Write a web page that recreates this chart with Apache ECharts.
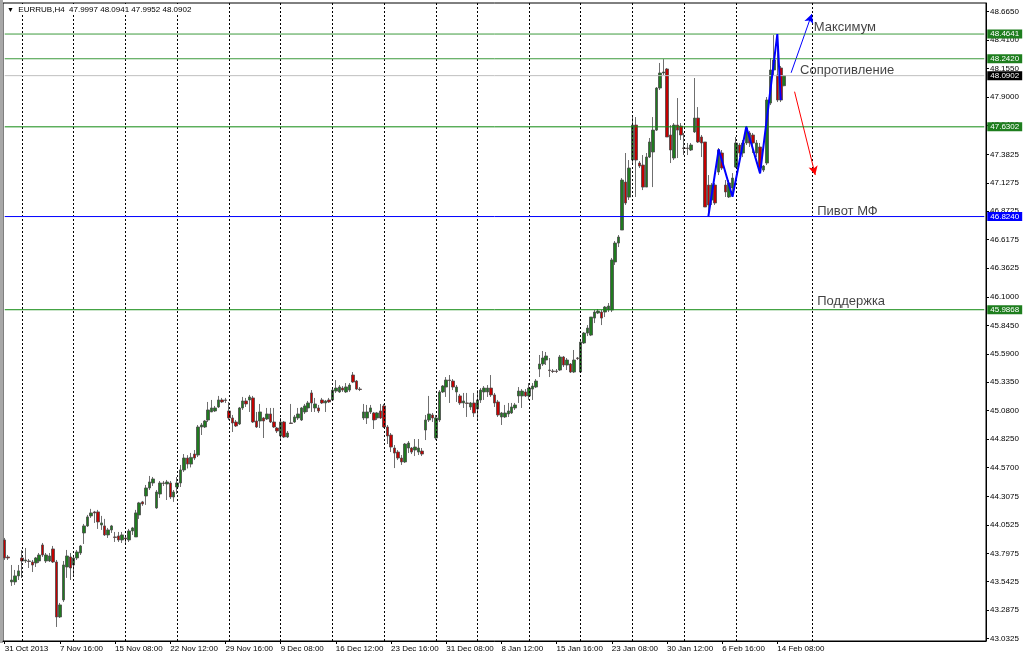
<!DOCTYPE html>
<html><head><meta charset="utf-8">
<script src="https://cdn.jsdelivr.net/npm/echarts@6/dist/echarts.min.js"></script>
<style>html,body{margin:0;padding:0;background:#fff}#c{width:1024px;height:659px}</style>
</head><body><div id="c"></div>
<script>
// ---- data (EURRUB H4) ----
const opens = [
43.918,43.765,43.541,43.541,43.595,43.756,43.729,43.729,43.720,43.711,
43.729,43.873,43.729,43.729,43.837,43.720,43.226,43.379,43.675,43.765,
43.693,43.756,43.801,43.981,44.044,44.134,44.170,44.170,44.053,44.044,
43.963,44.008,43.945,43.954,43.918,43.936,43.918,43.999,43.945,44.143,
44.260,44.313,44.385,44.430,44.206,44.331,44.430,44.421,44.430,44.304,
44.394,44.430,44.547,44.654,44.600,44.690,44.681,44.933,44.933,44.996,
45.068,45.077,45.113,45.176,45.176,45.077,45.014,44.978,44.960,45.104,
45.167,45.176,45.194,44.987,44.987,45.014,45.005,45.050,44.978,44.924,
44.852,44.978,44.843,44.969,44.978,45.014,44.996,45.068,45.104,45.239,
45.104,45.104,45.176,45.149,45.176,45.176,45.256,45.248,45.283,45.248,
45.265,45.400,45.346,45.274,45.014,45.014,45.068,45.059,45.014,45.077,
45.122,44.933,44.861,44.744,44.708,44.654,44.619,44.744,44.744,44.726,
44.708,44.717,44.906,44.996,45.041,44.834,44.996,45.248,45.292,45.355,
45.346,45.248,45.212,45.149,45.149,45.113,45.149,45.095,45.176,45.248,
45.248,45.283,45.221,45.158,45.023,45.023,45.050,45.059,45.104,45.212,
45.212,45.248,45.212,45.274,45.292,45.454,45.499,45.535,45.445,45.436,
45.436,45.445,45.562,45.490,45.499,45.427,45.553,45.427,45.688,45.777,
45.759,45.912,45.957,45.966,45.966,45.984,45.984,46.416,46.586,46.703,
47.134,46.999,47.332,47.646,47.305,47.287,47.089,47.359,47.404,47.601,
47.979,48.114,48.150,47.557,47.350,47.646,47.637,47.440,47.440,47.422,
47.584,47.709,47.539,47.494,47.107,46.973,47.107,47.224,47.395,47.107,
47.000,47.080,47.269,47.467,47.395,47.485,47.575,47.557,47.395,47.449,
47.242,47.305,47.844,48.141,48.096,48.159,47.9997
];
const closes = [
43.756,43.756,43.558,43.595,43.640,43.729,43.738,43.725,43.693,43.756,
43.783,43.783,43.783,43.774,43.720,43.226,43.334,43.693,43.774,43.666,
43.756,43.810,43.864,44.044,44.125,44.161,44.161,44.080,44.071,43.963,
44.008,44.044,43.941,43.918,43.963,43.927,43.999,44.026,44.161,44.251,
44.242,44.385,44.439,44.466,44.349,44.430,44.426,44.439,44.304,44.349,
44.430,44.547,44.654,44.600,44.660,44.654,44.933,44.951,44.987,45.086,
45.104,45.104,45.176,45.158,45.172,45.014,44.969,44.942,45.104,45.167,
45.140,45.203,44.978,44.933,45.068,44.987,45.050,44.978,44.933,44.897,
44.978,44.843,44.879,44.965,45.023,45.050,45.104,45.122,45.149,45.149,
45.140,45.077,45.149,45.167,45.158,45.265,45.283,45.293,45.265,45.293,
45.310,45.337,45.274,45.270,45.068,45.068,45.104,44.996,45.059,45.014,
44.933,44.852,44.753,44.699,44.654,44.619,44.780,44.789,44.708,44.753,
44.744,44.690,44.996,45.050,45.014,45.014,45.248,45.301,45.355,45.351,
45.292,45.292,45.149,45.167,45.145,45.149,45.059,45.176,45.265,45.283,
45.283,45.221,45.149,45.041,45.059,45.059,45.077,45.113,45.131,45.256,
45.256,45.212,45.283,45.301,45.346,45.499,45.553,45.571,45.441,45.432,
45.432,45.562,45.490,45.535,45.427,45.535,45.549,45.696,45.777,45.822,
45.921,45.966,45.975,45.912,46.011,46.020,46.434,46.586,46.640,47.152,
46.946,47.260,47.646,47.332,47.278,47.089,47.359,47.494,47.601,47.979,
48.114,48.123,47.539,47.422,47.646,47.601,47.557,47.436,47.436,47.467,
47.709,47.494,47.485,46.910,46.928,47.107,46.946,47.422,47.260,47.045,
47.125,47.170,47.485,47.395,47.485,47.620,47.485,47.485,47.485,47.260,
47.278,47.871,48.141,48.231,47.871,47.871,48.0902
];
const lows = [
43.738,43.738,43.505,43.514,43.558,43.577,43.711,43.666,43.630,43.675,
43.711,43.765,43.711,43.720,43.711,43.136,43.217,43.361,43.577,43.558,
43.603,43.738,43.783,43.882,44.035,44.116,44.071,44.017,44.008,43.954,
43.936,43.981,43.900,43.900,43.891,43.891,43.900,43.963,43.945,44.107,
44.224,44.233,44.367,44.403,44.197,44.295,44.403,44.277,44.286,44.260,
44.331,44.394,44.529,44.560,44.570,44.636,44.663,44.861,44.924,44.978,
45.068,45.068,45.104,45.149,45.149,44.996,44.888,44.933,44.951,45.086,
45.113,45.068,44.969,44.924,44.924,44.834,44.996,44.969,44.924,44.879,
44.825,44.834,44.834,44.960,44.969,44.996,44.987,45.050,45.068,45.068,
45.068,45.059,45.140,45.068,45.149,45.167,45.239,45.239,45.248,45.239,
45.248,45.328,45.265,45.256,44.996,44.960,45.050,44.915,44.996,45.005,
44.924,44.780,44.708,44.564,44.636,44.592,44.610,44.699,44.690,44.672,
44.681,44.672,44.816,44.978,44.978,44.816,44.978,45.239,45.203,45.149,
45.265,45.158,45.131,45.104,45.023,45.086,45.023,44.996,45.149,45.176,
45.203,45.203,45.113,45.023,44.951,45.014,45.023,45.050,45.086,45.149,
45.104,45.203,45.176,45.176,45.283,45.382,45.481,45.490,45.382,45.418,
45.418,45.436,45.472,45.445,45.418,45.418,45.535,45.418,45.679,45.750,
45.750,45.867,45.948,45.849,45.921,45.966,45.966,46.389,46.550,46.703,
46.928,46.973,47.305,47.000,47.260,47.062,47.089,47.350,47.089,47.593,
47.961,48.096,47.539,47.305,47.332,47.350,47.512,47.377,47.377,47.413,
47.575,47.485,47.359,46.910,46.838,46.928,46.928,47.197,47.242,47.000,
46.991,47.000,47.260,47.359,47.359,47.467,47.449,47.395,47.359,47.224,
47.224,47.287,47.826,48.096,47.853,47.853,47.9952
];
const highs = [
43.936,43.783,43.693,43.648,43.693,43.828,43.846,43.747,43.738,43.765,
43.801,43.891,43.801,43.801,43.864,43.738,43.352,43.729,43.828,43.801,
43.783,43.828,43.873,44.062,44.143,44.197,44.179,44.188,44.134,44.107,
44.026,44.053,43.990,43.990,43.990,43.954,44.017,44.035,44.188,44.260,
44.269,44.412,44.493,44.484,44.367,44.448,44.448,44.457,44.448,44.367,
44.484,44.592,44.690,44.680,44.700,44.726,44.951,44.969,44.996,45.158,
45.176,45.122,45.212,45.194,45.194,45.158,45.041,44.996,45.113,45.203,
45.194,45.221,45.212,45.068,45.140,45.023,45.104,45.104,45.104,44.933,
45.014,44.987,44.897,45.140,45.041,45.104,45.113,45.140,45.167,45.265,
45.194,45.131,45.194,45.176,45.194,45.283,45.355,45.310,45.301,45.328,
45.328,45.427,45.355,45.292,45.140,45.131,45.131,45.068,45.068,45.140,
45.140,44.951,44.879,44.771,44.726,44.681,44.789,44.807,44.753,44.825,
44.825,44.744,45.041,45.212,45.059,45.041,45.265,45.310,45.382,45.400,
45.364,45.310,45.230,45.239,45.239,45.158,45.239,45.265,45.283,45.301,
45.310,45.400,45.239,45.176,45.068,45.131,45.149,45.149,45.149,45.292,
45.274,45.274,45.328,45.328,45.364,45.580,45.616,45.607,45.553,45.454,
45.454,45.580,45.571,45.553,45.508,45.625,45.562,45.714,45.786,45.849,
45.921,45.984,45.993,45.984,46.020,46.047,46.452,46.604,46.658,47.170,
47.395,47.332,47.718,47.718,47.323,47.377,47.395,47.530,47.718,47.988,
48.204,48.239,48.159,47.646,47.664,47.889,47.664,47.575,47.485,47.485,
48.069,47.808,47.557,47.494,47.197,47.125,47.125,47.440,47.422,47.152,
47.152,47.215,47.539,47.485,47.512,47.638,47.593,47.575,47.512,47.485,
47.287,47.898,48.248,48.455,48.410,48.177,48.0941
];
const totalSlots = 285;                 // bars + empty chart-shift area
const dateLabels = ['31 Oct 2013','7 Nov 16:00','15 Nov 08:00','22 Nov 12:00','29 Nov 16:00',
  '9 Dec 08:00','16 Dec 12:00','23 Dec 16:00','31 Dec 08:00','8 Jan 12:00','15 Jan 16:00',
  '23 Jan 08:00','30 Jan 12:00','6 Feb 16:00','14 Feb 08:00'];
const labelEvery = 16;
const weekStarts = [5,20,35,50,65,80,95,110,125,137,152,167,182,197,212,234];
const priceTicks = [48.6650,48.4100,48.1550,47.9000,47.6450,47.3825,47.1275,46.8725,46.6175,
  46.3625,46.1000,45.8450,45.5900,45.3350,45.0800,44.8250,44.5700,44.3075,44.0525,43.7975,
  43.5425,43.2875,43.0325];
const levelValues = [48.4641, 48.2420, 47.6302, 46.8240, 45.9868];
const levelColors = ['#3c9a3c', '#3c9a3c', '#108a10', '#0000ff', '#108a10'];
const levelBoxColors = ['#1e7e1e', '#1e7e1e', '#1e7e1e', '#0000ff', '#1e7e1e'];
const bidPrice = 48.0902;
const zigX = [204, 207, 211, 215, 219, 224, 225];
const zigY = [46.824, 47.428, 47.002, 47.631, 47.212, 48.464, 47.871];
const upArrow = [[228, 48.116], [234, 48.644]];
const downArrow = [[229, 47.946], [235, 47.197]];
const noteX = [234, 230, 235, 235];
const noteY = [48.527, 48.141, 46.874, 46.065];
const noteText = ['Максимум', 'Сопротивление', 'Пивот МФ', 'Поддержка'];
const yMin = 43.010, yMax = 48.743;

// ---- build ----
const categories = Array.from({length: totalSlots}, (_, i) => String(i));
const candles = opens.map((o, i) => [o, closes[i], lows[i], highs[i]]);
const last = opens.length - 1;
const header = 'EURRUB,H4  ' + [opens[last], highs[last], lows[last], closes[last]].map(v => v.toFixed(4)).join(' ');
const F = 'Liberation Sans, Arial, sans-serif';
const showIdx = (i) => i % labelEvery === 0 && i / labelEvery < dateLabels.length;

function levelSeries(value, lineColor, boxColor) {
  return {
    type: 'line', silent: true, z: 5, symbol: 'none', color: lineColor,
    data: [[0, value], [totalSlots - 1, value]],
    lineStyle: {color: lineColor, width: 1, type: 'solid'},
    endLabel: {show: true, distance: 3, formatter: () => value.toFixed(4),
      backgroundColor: boxColor, color: '#fff', fontSize: 8, fontFamily: F, padding: [1, 3, 0, 3]},
    emphasis: {disabled: true}
  };
}
const levelList = levelValues.map((v, i) => levelSeries(v, levelColors[i], levelBoxColors[i]));
levelList.push(levelSeries(bidPrice, '#c0c0c0', '#000'));

const chart = echarts.init(document.getElementById('c'), null, {renderer: 'canvas'});
chart.setOption({
  animation: false,
  backgroundColor: '#fff',
  title: {
    text: '{t|▼}  ' + header, left: 4, top: 4, padding: [2, 3, 1, 3], backgroundColor: '#fff',
    textStyle: {fontSize: 8, fontWeight: 'normal', fontFamily: F, color: '#000',
      rich: {t: {fontSize: 7, fontFamily: F, color: '#000'}}}
  },
  graphic: [{type: 'rect', left: 0, top: 0, shape: {width: 3, height: 643}, style: {fill: '#a8a8a8'}, silent: true}],
  grid: {left: 3, top: 3, right: 38, bottom: 18, show: true, borderColor: '#000', borderWidth: 1, outerBoundsMode: 'none', containLabel: false},
  xAxis: {
    type: 'category', data: categories, boundaryGap: true,
    axisLine: {show: true, lineStyle: {color: '#000', width: 1}},
    axisTick: {show: true, alignWithLabel: true, interval: (i) => showIdx(i), length: 3, lineStyle: {color: '#000'}},
    axisLabel: {show: true, interval: (i) => showIdx(i), formatter: (v, i) => dateLabels[i / labelEvery],
      align: 'left', margin: 4, fontSize: 8, fontFamily: F, color: '#000'},
    splitLine: {show: false}
  },
  yAxis: {
    type: 'value', position: 'right', min: yMin, max: yMax, scale: true,
    axisLine: {show: true, lineStyle: {color: '#000', width: 1}},
    axisTick: {show: true, customValues: priceTicks, length: 3, lineStyle: {color: '#000'}},
    axisLabel: {show: true, customValues: priceTicks, formatter: (v) => v.toFixed(4), margin: 4,
      fontSize: 8, fontFamily: F, color: '#000'},
    splitLine: {show: false}
  },
  series: [
    {
      type: 'line', data: [], silent: true, z: 1,
      markLine: {
        silent: true, symbol: ['none', 'none'], animation: false,
        lineStyle: {color: '#000', type: [2, 2], width: 1},
        label: {show: false},
        data: weekStarts.map(i => ({xAxis: i}))
      }
    },
    {
      type: 'candlestick', name: 'EURRUB', data: candles, barWidth: 3, z: 3,
      itemStyle: {color: '#1f7a1f', color0: '#c40000', borderColor: '#4a4a4a', borderColor0: '#4a4a4a', borderWidth: 0.8}
    },
    {
      type: 'line', data: zigX.map((x, i) => [x, zigY[i]]), symbol: 'none', z: 6,
      lineStyle: {color: '#0000ff', width: 2}
    }
  ].concat(levelList).concat([
    {
      type: 'line', data: [], silent: true, z: 6,
      markLine: {
        silent: true, animation: false, symbol: ['none', 'arrow'], symbolSize: [7, 9],
        label: {show: false},
        data: [
          [{coord: upArrow[0], lineStyle: {color: '#0000ff', width: 1, type: 'solid'}}, {coord: upArrow[1]}],
          [{coord: downArrow[0], lineStyle: {color: '#ff0000', width: 1, type: 'solid'}}, {coord: downArrow[1]}]
        ]
      }
    },
    {
      type: 'scatter', symbolSize: 0, z: 7, silent: true,
      data: noteX.map((x, i) => [x, noteY[i], noteText[i]]),
      label: {show: true, position: 'right', distance: 2, formatter: (p) => p.value[2],
        fontSize: 13, fontFamily: F, color: '#111'}
    }
  ])
});
</script></body></html>
